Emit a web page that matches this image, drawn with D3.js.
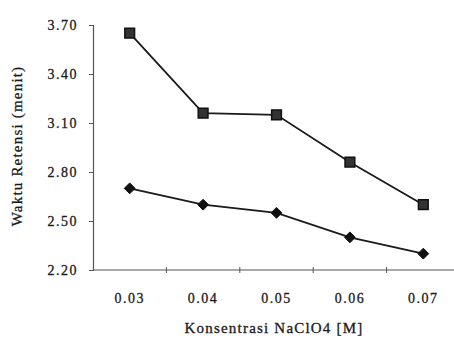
<!DOCTYPE html>
<html>
<head>
<meta charset="utf-8">
<script src="https://cdn.jsdelivr.net/npm/d3@7"></script>
<style>
  body { margin: 0; background: #fff; }
</style>
</head>
<body>
<div id="chart"></div>
<script>
const categories = ["0.03", "0.04", "0.05", "0.06", "0.07"];
const seriesSquare = [3.65, 3.16, 3.15, 2.86, 2.60];
const seriesDiamond = [2.70, 2.60, 2.55, 2.40, 2.30];
const yTicks = [2.20, 2.50, 2.80, 3.10, 3.40, 3.70];

const width = 454;
const height = 345;
const serif = "Liberation Serif";

const svg = d3.select("#chart")
    .append("svg")
    .attr("width", width)
    .attr("height", height);

const x = d3.scaleBand()
    .domain(categories)
    .range([93, 460]);

const y = d3.scaleLinear()
    .domain([2.2, 3.7])
    .range([270, 25]);

// y axis
const yAxis = svg.append("g")
    .attr("transform", "translate(93,0)")
    .call(d3.axisLeft(y).tickValues(yTicks).tickFormat(d3.format(".2f")).tickSize(4).tickPadding(11));
yAxis.attr("font-family", serif);
yAxis.select(".domain").attr("stroke", "#555").attr("stroke-width", 1.2);
yAxis.selectAll(".tick line").attr("stroke", "#555");
yAxis.selectAll(".tick text")
    .attr("font-family", serif)
    .attr("font-size", 14)
    .attr("letter-spacing", "1.5px")
    .attr("fill", "#1a1a1a")
    .attr("stroke", "#1a1a1a")
    .attr("stroke-width", 0.3);

// x axis line with tick marks between categories
svg.append("line")
    .attr("x1", 93).attr("x2", width)
    .attr("y1", y(2.2)).attr("y2", y(2.2))
    .attr("stroke", "#555").attr("stroke-width", 1.2);

svg.selectAll(".xtick")
    .data(categories.slice(1))
    .enter()
    .append("line")
    .attr("class", "xtick")
    .attr("x1", d => x(d)).attr("x2", d => x(d))
    .attr("y1", y(2.2) - 3).attr("y2", y(2.2) + 3)
    .attr("stroke", "#555");

svg.selectAll(".xlabel")
    .data(categories)
    .enter()
    .append("text")
    .attr("class", "xlabel")
    .attr("x", d => x(d) + x.bandwidth() / 2)
    .attr("y", 303)
    .attr("text-anchor", "middle")
    .attr("font-family", serif)
    .attr("font-size", 14)
    .attr("letter-spacing", "1.5px")
    .attr("fill", "#1a1a1a")
    .attr("stroke", "#1a1a1a")
    .attr("stroke-width", 0.3)
    .text(d => d);

// axis titles
svg.append("text")
    .attr("x", 274)
    .attr("y", 333)
    .attr("text-anchor", "middle")
    .attr("font-family", serif)
    .attr("font-size", 15)
    .attr("letter-spacing", "1.2px")
    .attr("fill", "#1a1a1a")
    .attr("stroke", "#1a1a1a")
    .attr("stroke-width", 0.3)
    .text("Konsentrasi NaClO4 [M]");

svg.append("text")
    .attr("transform", "translate(22,146) rotate(-90)")
    .attr("text-anchor", "middle")
    .attr("font-family", serif)
    .attr("font-size", 15)
    .attr("letter-spacing", "1.2px")
    .attr("fill", "#1a1a1a")
    .attr("stroke", "#1a1a1a")
    .attr("stroke-width", 0.3)
    .text("Waktu Retensi (menit)");

const line = d3.line()
    .x((d, i) => x(categories[i]) + x.bandwidth() / 2)
    .y(d => y(d));

[seriesSquare, seriesDiamond].forEach(s => {
    svg.append("path")
        .datum(s)
        .attr("d", line)
        .attr("fill", "none")
        .attr("stroke", "#1a1a1a")
        .attr("stroke-width", 1.8);
});

svg.selectAll(".sq")
    .data(seriesSquare)
    .enter()
    .append("path")
    .attr("class", "sq")
    .attr("d", d3.symbol().type(d3.symbolSquare).size(95))
    .attr("transform", (d, i) => `translate(${x(categories[i]) + x.bandwidth() / 2},${y(d)})`)
    .attr("fill", "#333")
    .attr("stroke", "#111")
    .attr("stroke-width", 1.5);

svg.selectAll(".dm")
    .data(seriesDiamond)
    .enter()
    .append("path")
    .attr("class", "dm")
    .attr("d", d3.symbol().type(d3.symbolDiamond2).size(75))
    .attr("transform", (d, i) => `translate(${x(categories[i]) + x.bandwidth() / 2},${y(d)})`)
    .attr("fill", "#111")
    .attr("stroke", "#111")
    .attr("stroke-width", 1);
</script>
</body>
</html>
